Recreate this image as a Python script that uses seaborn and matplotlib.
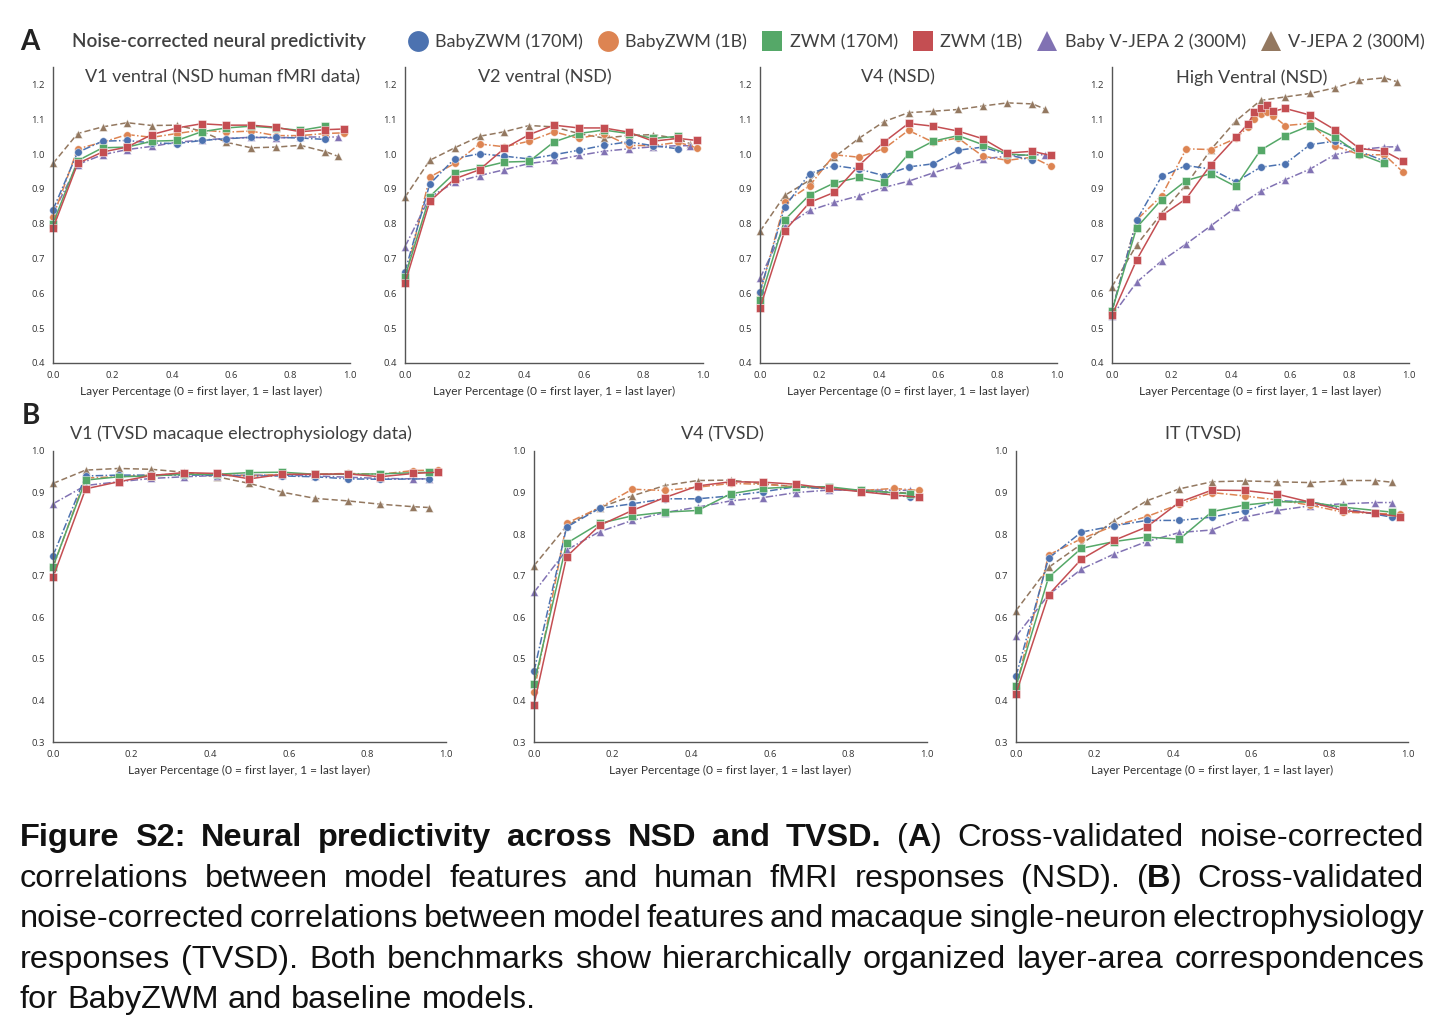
import pandas as pd
import seaborn as sns
import matplotlib.pyplot as plt
from matplotlib.lines import Line2D

# ---- series / styling ----
MODELS = ["BabyZWM (170M)", "BabyZWM (1B)", "ZWM (170M)", "ZWM (1B)",
          "Baby V-JEPA 2 (300M)", "V-JEPA 2 (300M)"]
COLORS = ["#4C72B0", "#DD8452", "#55A868", "#C44E52", "#8172B3", "#937860"]
MARKERS = ["o", "o", "s", "s", "^", "^"]
DASHES = [(5, 1.5, 1, 1.5), (5, 1.5, 1, 1.5), "", "", (5, 1.5, 1, 1.5), (4, 2)]
DRAW_ORDER = ["V-JEPA 2 (300M)", "Baby V-JEPA 2 (300M)", "BabyZWM (1B)",
              "BabyZWM (170M)", "ZWM (170M)", "ZWM (1B)"]

# ---- layer positions ----
X_170M_NSD = [0.0, 0.083, 0.167, 0.25, 0.333, 0.417, 0.5, 0.583, 0.667, 0.75, 0.833, 0.917]
X_170M_TVSD = [0.0, 0.083, 0.167, 0.25, 0.333, 0.417, 0.5, 0.583, 0.667, 0.75, 0.833, 0.958]
X_1B = [0.0, 0.083, 0.167, 0.25, 0.333, 0.417, 0.5, 0.583, 0.667, 0.75, 0.833, 0.917, 0.979]
X_1B_HV = [0.0, 0.083, 0.167, 0.25, 0.333, 0.417, 0.458, 0.479, 0.5, 0.521, 0.542,
           0.583, 0.667, 0.75, 0.833, 0.917, 0.979]
X_VJEPA = [0.0, 0.083, 0.167, 0.25, 0.333, 0.417, 0.5, 0.583, 0.667, 0.75, 0.833, 0.917, 0.958]

# ---- NSD (panel A) ----
v1_nsd = {
    "BabyZWM (170M)": [0.84, 1.005, 1.037, 1.039, 1.032, 1.03, 1.039, 1.044, 1.048, 1.048, 1.046, 1.042],
    "BabyZWM (1B)": [0.82, 1.015, 1.034, 1.056, 1.048, 1.059, 1.069, 1.063, 1.066, 1.053, 1.053, 1.059, 1.061],
    "ZWM (170M)": [0.80, 0.981, 1.018, 1.02, 1.037, 1.039, 1.064, 1.075, 1.08, 1.075, 1.068, 1.08],
    "ZWM (1B)": [0.787, 0.973, 1.006, 1.02, 1.056, 1.075, 1.087, 1.083, 1.083, 1.077, 1.064, 1.07, 1.072],
    "Baby V-JEPA 2 (300M)": [0.83, 0.97, 0.998, 1.013, 1.022, 1.034, 1.04, 1.045, 1.048, 1.046, 1.049, 1.049, 1.049],
    "V-JEPA 2 (300M)": [0.973, 1.059, 1.078, 1.09, 1.082, 1.083, 1.066, 1.034, 1.018, 1.02, 1.025, 1.007, 0.994],
}
v2_nsd = {
    "BabyZWM (170M)": [0.662, 0.914, 0.987, 1.001, 0.994, 0.986, 0.998, 1.011, 1.025, 1.035, 1.024, 1.015],
    "BabyZWM (1B)": [0.64, 0.934, 0.973, 1.029, 1.021, 1.037, 1.064, 1.045, 1.059, 1.025, 1.024, 1.034, 1.018],
    "ZWM (170M)": [0.648, 0.878, 0.946, 0.96, 0.977, 0.979, 1.035, 1.059, 1.069, 1.059, 1.045, 1.051],
    "ZWM (1B)": [0.629, 0.864, 0.929, 0.955, 1.016, 1.056, 1.083, 1.075, 1.075, 1.063, 1.037, 1.045, 1.039],
    "Baby V-JEPA 2 (300M)": [0.734, 0.876, 0.919, 0.938, 0.955, 0.973, 0.982, 0.996, 1.008, 1.015, 1.021, 1.024, 1.024],
    "V-JEPA 2 (300M)": [0.876, 0.982, 1.018, 1.051, 1.064, 1.082, 1.078, 1.059, 1.046, 1.053, 1.056, 1.044, 1.029],
}
v4_nsd = {
    "BabyZWM (170M)": [0.605, 0.848, 0.944, 0.967, 0.957, 0.938, 0.963, 0.972, 1.011, 1.02, 0.998, 0.982],
    "BabyZWM (1B)": [0.60, 0.861, 0.909, 0.998, 0.991, 1.015, 1.068, 1.034, 1.046, 0.994, 0.982, 0.991, 0.965],
    "ZWM (170M)": [0.58, 0.811, 0.883, 0.917, 0.933, 0.919, 1.0, 1.037, 1.053, 1.027, 1.0, 0.996],
    "ZWM (1B)": [0.558, 0.779, 0.861, 0.89, 0.967, 1.034, 1.088, 1.08, 1.066, 1.044, 1.003, 1.008, 0.996],
    "Baby V-JEPA 2 (300M)": [0.643, 0.792, 0.838, 0.861, 0.88, 0.904, 0.922, 0.946, 0.968, 0.986, 0.994, 0.998, 0.998],
    "V-JEPA 2 (300M)": [0.778, 0.881, 0.925, 0.991, 1.045, 1.093, 1.119, 1.123, 1.128, 1.138, 1.147, 1.144, 1.13],
}
hv_nsd = {
    "BabyZWM (170M)": [0.55, 0.81, 0.936, 0.967, 0.957, 0.92, 0.962, 0.972, 1.027, 1.037, 1.008, 0.98],
    "BabyZWM (1B)": [0.55, 0.811, 0.88, 1.015, 1.013, 1.045, 1.078, 1.10, 1.115, 1.12, 1.11, 1.082,
                     1.088, 1.024, 0.998, 0.998, 0.949],
    "ZWM (170M)": [0.55, 0.789, 0.869, 0.924, 0.944, 0.907, 1.011, 1.053, 1.082, 1.049, 1.0, 0.973],
    "ZWM (1B)": [0.537, 0.696, 0.823, 0.872, 0.97, 1.048, 1.087, 1.12, 1.133, 1.142, 1.123, 1.131,
                 1.112, 1.07, 1.016, 1.008, 0.98],
    "Baby V-JEPA 2 (300M)": [0.535, 0.632, 0.693, 0.742, 0.794, 0.847, 0.893, 0.926, 0.957, 0.998, 1.013, 1.02, 1.021],
    "V-JEPA 2 (300M)": [0.619, 0.739, 0.83, 0.912, 1.013, 1.095, 1.154, 1.164, 1.174, 1.19, 1.212, 1.219, 1.208],
}

# ---- TVSD (panel B) ----
v1_tvsd = {
    "BabyZWM (170M)": [0.748, 0.94, 0.942, 0.942, 0.942, 0.942, 0.94, 0.94, 0.938, 0.933, 0.932, 0.933],
    "BabyZWM (1B)": [0.72, 0.935, 0.938, 0.942, 0.945, 0.944, 0.94, 0.944, 0.944, 0.946, 0.944, 0.953, 0.954],
    "ZWM (170M)": [0.722, 0.93, 0.938, 0.94, 0.944, 0.944, 0.948, 0.949, 0.944, 0.944, 0.945, 0.949],
    "ZWM (1B)": [0.696, 0.909, 0.926, 0.941, 0.948, 0.946, 0.933, 0.944, 0.944, 0.945, 0.938, 0.946, 0.949],
    "Baby V-JEPA 2 (300M)": [0.873, 0.917, 0.926, 0.934, 0.938, 0.941, 0.942, 0.942, 0.94, 0.937, 0.934, 0.933, 0.933],
    "V-JEPA 2 (300M)": [0.922, 0.954, 0.958, 0.956, 0.949, 0.938, 0.922, 0.901, 0.886, 0.88, 0.872, 0.866, 0.864],
}
v4_tvsd = {
    "BabyZWM (170M)": [0.47, 0.817, 0.862, 0.873, 0.885, 0.885, 0.892, 0.902, 0.914, 0.909, 0.904, 0.889],
    "BabyZWM (1B)": [0.42, 0.826, 0.864, 0.908, 0.905, 0.913, 0.922, 0.92, 0.914, 0.91, 0.905, 0.91, 0.905],
    "ZWM (170M)": [0.439, 0.778, 0.826, 0.844, 0.853, 0.857, 0.897, 0.91, 0.914, 0.914, 0.905, 0.897],
    "ZWM (1B)": [0.39, 0.746, 0.821, 0.857, 0.888, 0.916, 0.926, 0.925, 0.92, 0.91, 0.902, 0.894, 0.889],
    "Baby V-JEPA 2 (300M)": [0.66, 0.762, 0.806, 0.833, 0.852, 0.865, 0.88, 0.888, 0.9, 0.906, 0.906, 0.906, 0.905],
    "V-JEPA 2 (300M)": [0.724, 0.82, 0.864, 0.892, 0.917, 0.929, 0.93, 0.921, 0.914, 0.91, 0.904, 0.901, 0.898],
}
it_tvsd = {
    "BabyZWM (170M)": [0.458, 0.742, 0.805, 0.82, 0.833, 0.833, 0.841, 0.856, 0.88, 0.878, 0.862, 0.841],
    "BabyZWM (1B)": [0.43, 0.75, 0.789, 0.82, 0.842, 0.872, 0.9, 0.892, 0.882, 0.87, 0.853, 0.85, 0.848],
    "ZWM (170M)": [0.434, 0.696, 0.766, 0.782, 0.793, 0.788, 0.854, 0.87, 0.878, 0.877, 0.865, 0.853],
    "ZWM (1B)": [0.416, 0.654, 0.74, 0.785, 0.817, 0.877, 0.906, 0.905, 0.896, 0.877, 0.857, 0.85, 0.842],
    "Baby V-JEPA 2 (300M)": [0.554, 0.654, 0.716, 0.752, 0.782, 0.804, 0.81, 0.841, 0.857, 0.868, 0.873, 0.876, 0.876],
    "V-JEPA 2 (300M)": [0.616, 0.72, 0.776, 0.832, 0.88, 0.909, 0.926, 0.928, 0.926, 0.924, 0.929, 0.929, 0.925],
}

CAPTION = [
    "*Figure S2: Neural predictivity across NSD and TVSD.* (*A*) Cross-validated noise-corrected",
    "correlations between model features and human fMRI responses (NSD). (*B*) Cross-validated",
    "noise-corrected correlations between model features and macaque single-neuron electrophysiology",
    "responses (TVSD). Both benchmarks show hierarchically organized layer-area correspondences",
    "for BabyZWM and baseline models.",
]

sns.set_theme(style="white")
plt.rcParams["font.family"] = ["Lato", "DejaVu Sans"]

W, H = 1442, 1031
fig = plt.figure(figsize=(W / 100, H / 100), dpi=100)
TXT = "#404040"


def add_ax(left, right, top, bottom):
    return fig.add_axes([left / W, 1 - bottom / H, (right - left) / W, (bottom - top) / H])


def draw_panel(ax, values, xmap, ylim, yticks, title, tx, ty):
    rows = []
    for m in MODELS:
        for x, y in zip(xmap[m], values[m]):
            rows.append({"layer": x, "score": y, "model": m})
    df = pd.DataFrame(rows)
    sns.lineplot(data=df, x="layer", y="score", hue="model", style="model",
                 hue_order=DRAW_ORDER, style_order=DRAW_ORDER,
                 palette=dict(zip(MODELS, COLORS)),
                 markers=dict(zip(MODELS, MARKERS)),
                 dashes=dict(zip(MODELS, DASHES)),
                 linewidth=1.1, markersize=5.5, markeredgecolor=(1, 1, 1, 0.55),
                 markeredgewidth=0.6, legend=False, ax=ax, clip_on=False)
    ax.set_xlim(0, 1)
    ax.set_ylim(*ylim)
    xt = [0, 0.2, 0.4, 0.6, 0.8, 1.0]
    ax.set_xticks(xt)
    ax.set_xticklabels([f"{t:.1f}" for t in xt], family="Open Sans")
    ax.set_yticks(yticks)
    ax.set_yticklabels([f"{t:.1f}" for t in yticks], family="Open Sans")
    ax.tick_params(length=0, labelsize=6.8, colors="#333333", pad=6)
    sns.despine(ax=ax)
    for s in ["left", "bottom"]:
        ax.spines[s].set_color("#555555")
        ax.spines[s].set_linewidth(1.0)
    ax.set_xlabel("Layer Percentage (0 = first layer, 1 = last layer)", fontsize=8.6,
                  color="#333333", labelpad=4)
    ax.set_ylabel("")
    ax.text(tx, ty, title, transform=ax.transAxes, ha="center", va="center",
            fontsize=13, color=TXT)


map_nsd = {"BabyZWM (170M)": X_170M_NSD, "BabyZWM (1B)": X_1B, "ZWM (170M)": X_170M_NSD,
           "ZWM (1B)": X_1B, "Baby V-JEPA 2 (300M)": X_VJEPA, "V-JEPA 2 (300M)": X_VJEPA}
map_hv = dict(map_nsd, **{"BabyZWM (1B)": X_1B_HV, "ZWM (1B)": X_1B_HV})
map_tvsd = {"BabyZWM (170M)": X_170M_TVSD, "BabyZWM (1B)": X_1B, "ZWM (170M)": X_170M_TVSD,
            "ZWM (1B)": X_1B, "Baby V-JEPA 2 (300M)": X_VJEPA, "V-JEPA 2 (300M)": X_VJEPA}

yt_a = [0.4, 0.5, 0.6, 0.7, 0.8, 0.9, 1.0, 1.1, 1.2]
yt_b = [0.3, 0.4, 0.5, 0.6, 0.7, 0.8, 0.9, 1.0]

draw_panel(add_ax(53, 350, 67, 363), v1_nsd, map_nsd, (0.4, 1.25), yt_a,
           "V1 ventral (NSD human fMRI data)", 0.57, 0.965)
draw_panel(add_ax(405, 703, 67, 363), v2_nsd, map_nsd, (0.4, 1.25), yt_a,
           "V2 ventral (NSD)", 0.47, 0.965)
draw_panel(add_ax(760, 1057, 67, 363), v4_nsd, map_nsd, (0.4, 1.25), yt_a,
           "V4 (NSD)", 0.465, 0.965)
draw_panel(add_ax(1112, 1409, 67, 363), hv_nsd, map_hv, (0.4, 1.25), yt_a,
           "High Ventral (NSD)", 0.47, 0.965)

draw_panel(add_ax(53, 446, 451, 742), v1_tvsd, map_tvsd, (0.3, 1.0), yt_b,
           "V1 (TVSD macaque electrophysiology data)", 0.477, 1.058)
draw_panel(add_ax(534, 927, 451, 742), v4_tvsd, map_tvsd, (0.3, 1.0), yt_b,
           "V4 (TVSD)", 0.48, 1.058)
draw_panel(add_ax(1016, 1408, 451, 742), it_tvsd, map_tvsd, (0.3, 1.0), yt_b,
           "IT (TVSD)", 0.478, 1.058)

# ---- header: panel letters + legend ----
fig.text(20 / W, 1 - 42 / H, "A", fontsize=20, weight="bold", color="#222222", va="center")
fig.text(22 / W, 1 - 416 / H, "B", fontsize=20, weight="bold", color="#222222", va="center")
fig.text(72 / W, 1 - 42 / H, "Noise-corrected neural predictivity", fontsize=13.6,
         weight="semibold", color=TXT, va="center")
handles = [Line2D([], [], linestyle="none", marker=mk, color=c, markersize=15,
                  markeredgewidth=0)
           for mk, c in zip(MARKERS, COLORS)]
fig.legend(handles, MODELS, loc="center left", bbox_to_anchor=(406 / W, 1 - 42 / H),
           ncol=6, frameon=False, fontsize=13, labelcolor=TXT, handletextpad=0.3,
           columnspacing=0.75, handlelength=1.3, borderaxespad=0, borderpad=0)

# ---- justified caption ----
renderer = fig.canvas.get_renderer()
CAP_FS = 23.4


def parse(line):
    words, cur, buf, bold = [], [], "", False
    for ch in line:
        if ch == "*":
            if buf:
                cur.append((buf, bold))
                buf = ""
            bold = not bold
        elif ch == " ":
            if buf:
                cur.append((buf, bold))
                buf = ""
            if cur:
                words.append(cur)
                cur = []
        else:
            buf += ch
    if buf:
        cur.append((buf, bold))
    if cur:
        words.append(cur)
    return words


def seg_width(s, bold):
    t = fig.text(0, 0, s, fontsize=CAP_FS, family="Liberation Sans",
                 weight="bold" if bold else "normal")
    w = t.get_window_extent(renderer).width
    t.remove()
    return w


space_w = seg_width("a a", False) - seg_width("aa", False)
x_left, x_right = 20, 1424
baselines = [846, 887, 927, 968, 1008]
for i, (line, yb) in enumerate(zip(CAPTION, baselines)):
    words = parse(line)
    widths = [[seg_width(s, b) for s, b in w] for w in words]
    total = sum(sum(ws) for ws in widths)
    last = i == len(CAPTION) - 1
    gap = space_w if last else (x_right - x_left - total) / (len(words) - 1)
    x = x_left
    for w, ws in zip(words, widths):
        for (s, b), sw in zip(w, ws):
            fig.text(x / W, 1 - yb / H, s, fontsize=CAP_FS, family="Liberation Sans",
                     weight="bold" if b else "normal", color="#111111", va="baseline")
            x += sw
        x += gap

fig.savefig("out.png", dpi=100)
